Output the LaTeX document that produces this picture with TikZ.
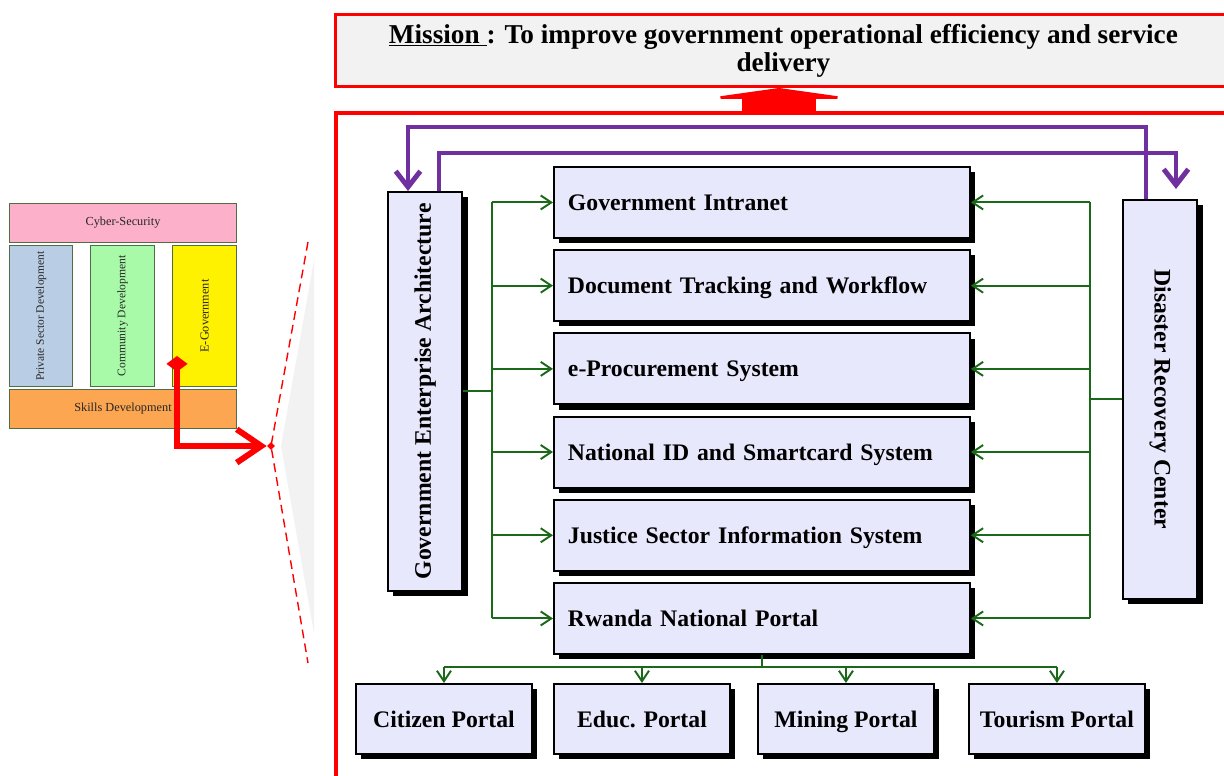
\documentclass[tikz,border=0pt]{standalone}
\usepackage{fontspec}
\setmainfont{Liberation Serif}
\usetikzlibrary{arrows.meta,positioning,shadows,shapes.geometric}
\definecolor{boxfill}{RGB}{232,232,252}
\definecolor{busgreen}{RGB}{25,105,25}
\definecolor{eapurple}{RGB}{112,48,160}
\definecolor{missiongray}{RGB}{242,242,242}
\definecolor{pillarline}{RGB}{80,110,70}
\definecolor{cyberpink}{RGB}{252,176,202}
\definecolor{privblue}{RGB}{185,205,228}
\definecolor{commgreen}{RGB}{168,250,168}
\definecolor{skillorange}{RGB}{252,166,82}
\tikzset{appbox/.style={draw,line width=1.1pt,fill=boxfill,anchor=north west,
        drop shadow={shadow xshift=3pt,shadow yshift=-3pt,fill=black,opacity=1},
        font=\fontsize{13.5}{16}\selectfont\bfseries},
    listbox/.style={appbox,minimum height=1.42cm,text width=7.76cm,inner xsep=0.28cm,align=left,
        text height=2.2ex,text depth=0.2ex},
    portalbox/.style={appbox,minimum width=3.52cm,minimum height=1.4cm,inner sep=0,
        text height=2.2ex,text depth=0.2ex},
    sidebox/.style={appbox,minimum width=1.49cm,minimum height=7.98cm,inner sep=0},
    pillar/.style={draw=pillarline,line width=0.6pt,anchor=north west,inner sep=0,
        text=black!85,font=\fontsize{7}{8}\selectfont},
    busline/.style={busgreen,line width=1.1pt},
    greenarrow/.style={busline,-{Straight Barb[length=6pt,width=8pt]}},
    purplearrow/.style={eapurple,line width=2.8pt,-{Straight Barb[length=9pt,width=14pt]}}
}

\begin{document}
\begin{tikzpicture}[x=0.02cm,y=-0.02cm]

\useasboundingbox (0,0) rectangle (1224,776);
\clip (0,0) rectangle (1224,776);

\node [pillar,fill=cyberpink,minimum width=4.54cm,minimum height=0.78cm] (cyber) at (9,203) {Cyber-Security};
\node [pillar,fill=privblue,minimum width=1.26cm,minimum height=2.82cm] (privsec) at (9,245) {\rotatebox{90}{\fontsize{6.5}{7}\selectfont Private Sector Development}};
\node [pillar,fill=commgreen,minimum width=1.28cm,minimum height=2.82cm] (commdev) at (90,245) {\rotatebox{90}{\fontsize{6.6}{7}\selectfont Community Development}};
\node [pillar,fill=yellow,minimum width=1.28cm,minimum height=2.82cm] (egov) at (172,245) {\rotatebox{90}{E-Government}};
\node [pillar,fill=skillorange,minimum width=4.54cm,minimum height=0.78cm] (skills) at (9,389) {Skills Development};

\fill [missiongray] (314,260) -- (281,446) -- (314,633) -- cycle;
\node [diamond,fill=red,inner sep=0,minimum size=0.16cm] (zoompt) at (271,446) {};
\draw [red,line width=0.8pt,dash pattern=on 5pt off 3pt] (308,242) -- (zoompt.center) -- (308,663);

\coordinate (egovpin) at (177,356);
\draw [red,line width=3.4pt,{Diamond[length=9pt,width=12pt]}-{Straight Barb[length=14pt,width=19pt]}] (egovpin) |- (zoompt.west);

\node [draw=red,line width=1.7pt,fill=missiongray,anchor=north west,minimum width=17.92cm,minimum height=1.44cm,
    align=center,font=\fontsize{15.5}{16}\selectfont\bfseries] (mission) at (334,13)
    {\underline{Mission\ }: To improve government operational efficiency and service\\delivery};

\draw [red,line width=2.4pt] (336,900) |- (1300,113);

\coordinate (frametop) at (779,113);
\draw [red,line width=1.48cm,-{Triangle[length=0.22cm,width=3.12cm]}] (frametop) -- (779,0 |- mission.south);

\foreach \name/\txt [count=\i from 0] in {intranet/Government Intranet,
    docflow/Document Tracking and Workflow,
    eproc/e-Procurement System,
    natid/National ID and Smartcard System,
    justice/Justice Sector Information System,
    rnp/Rwanda National Portal}
    \node [listbox] (\name) at (553,{166+83.2*\i}) {\txt};

\node [sidebox] (gea) at (387,191) {\rotatebox{90}{Government Enterprise Architecture}};
\node [sidebox] (drc) at (1122,199) {\rotatebox{-90}{Disaster Recovery Center}};

\coordinate (leftbus) at (492,0 |- gea.east);
\coordinate (rightbus) at (1090,0 |- drc.west);

\draw [busline] (gea.east) -- (leftbus);
\draw [busline] (leftbus |- intranet.west) -- (leftbus |- rnp.west);
\draw [busline] (drc.west) -- (rightbus);
\draw [busline] (rightbus |- intranet.east) -- (rightbus |- rnp.east);

\foreach \name in {intranet,docflow,eproc,natid,justice,rnp}
{
    \draw [greenarrow] (leftbus |- \name.west) -- (\name.west);
    \draw [greenarrow] (rightbus |- \name.east) -- (\name.east);
}

\foreach \name/\txt/\x in {citizen/Citizen Portal/355,
    educ/Educ. Portal/553,
    mining/Mining Portal/757,
    tourism/Tourism Portal/968}
    \node [portalbox] (\name) at (\x,683) {\txt};

\coordinate (portalbus) at (rnp.south |- 0,667);
\draw [busline] (rnp.south) -- (portalbus);
\draw [busline] (portalbus -| citizen.north) -- (portalbus -| tourism.north);

\foreach \name in {citizen,educ,mining,tourism}
    \draw [greenarrow] (portalbus -| \name.north) -- (\name.north);

\draw [purplearrow] (1146,0 |- drc.north) |- (408,127) -- (408,0 |- gea.north);
\draw [purplearrow,shorten >=0.2cm] (439,0 |- gea.north) |- (1176,153) -- (1176,0 |- drc.north);

\end{tikzpicture}
\end{document}
